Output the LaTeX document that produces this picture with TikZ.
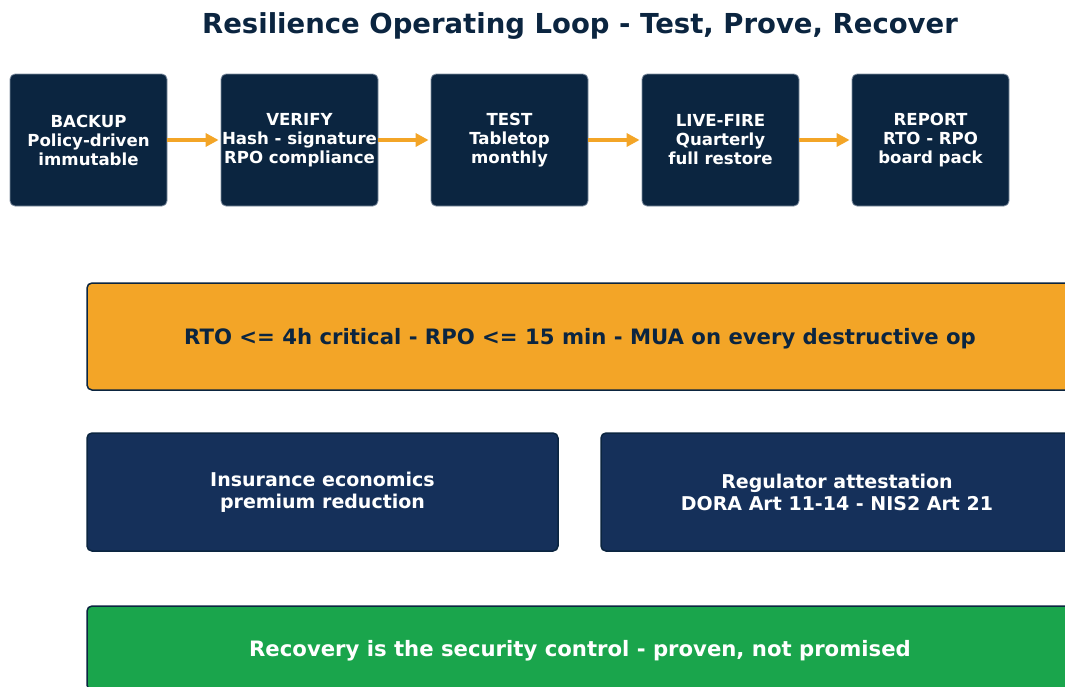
\documentclass[tikz,border=0pt]{standalone}
\usepackage{fontspec}
\setmainfont{DejaVu Sans}
\usetikzlibrary{arrows.meta}
\definecolor{navy}{HTML}{0B2540}
\definecolor{midnavy}{HTML}{15305A}
\definecolor{amber}{HTML}{F3A527}
\definecolor{leaf}{HTML}{1AA54C}
\definecolor{edgegray}{HTML}{7F8EA0}
\newcommand{\lowered}[2]{\raisebox{-#1}[\height][\depth]{#2}}
\begin{document}
\begin{tikzpicture}[x=1pt,y=-1pt,
  stage/.style={draw=edgegray,line width=0.8pt,fill=navy,rounded corners=5pt,
    minimum width=157pt,minimum height=132pt,inner sep=0pt,align=center,
    text=white,font=\fontsize{16.6}{19}\selectfont\bfseries},
  flow/.style={draw=amber,line width=3.5pt,-{Triangle[length=13pt,width=13pt]}},
  banner/.style={draw=navy,line width=1.5pt,rounded corners=5pt,inner sep=0pt,
    align=center,font=\fontsize{21.2}{24}\selectfont\bfseries},
  panel/.style={banner,fill=midnavy,text=white,font=\fontsize{19}{22}\selectfont\bfseries}]
\useasboundingbox (0,0) rectangle (1065,686);
\clip (0,0) rectangle (1065,686);

% title
\node[text=navy,font=\fontsize{27.5}{32}\selectfont\bfseries] (title) at (580,26.5)
  {Resilience Operating Loop - Test, Prove, Recover};

% the loop stages
\node[stage] (backup) at (88.5,140) {BACKUP\\Policy-driven\\immutable};
\node[stage] (verify) at (299.5,140) {VERIFY\\Hash - signature\\RPO compliance};
\node[stage] (test)   at (509.5,140) {TEST\\Tabletop\\monthly};
\node[stage] (fire)   at (720.5,140) {LIVE-FIRE\\Quarterly\\full restore};
\node[stage] (report) at (930.5,140) {REPORT\\RTO - RPO\\board pack};

\draw[flow] (backup.east) -- ([xshift=-2pt]verify.west);
\draw[flow] (verify.east) -- ([xshift=-2pt]test.west);
\draw[flow] (test.east)   -- ([xshift=-2pt]fire.west);
\draw[flow] (fire.east)   -- ([xshift=-2pt]report.west);

% targets
\node[banner,fill=amber,text=navy,minimum width=986pt,minimum height=107pt] (targets) at (580,336.5)
  {\lowered{2pt}{RTO <= 4h critical - RPO <= 15 min - MUA on every destructive op}};

% outcomes
\node[panel,minimum width=471pt,minimum height=118pt] (insurance) at (322.5,492)
  {Insurance economics\\premium reduction};
\node[panel,minimum width=472pt,minimum height=118pt] (regulator) at (837,492)
  {Regulator attestation\\DORA Art 11-14 - NIS2 Art 21};

% closing statement
\node[banner,fill=leaf,text=white,minimum width=986pt,minimum height=84pt] (closing) at (580,648)
  {\lowered{2.5pt}{Recovery is the security control - proven, not promised}};
\end{tikzpicture}
\end{document}
